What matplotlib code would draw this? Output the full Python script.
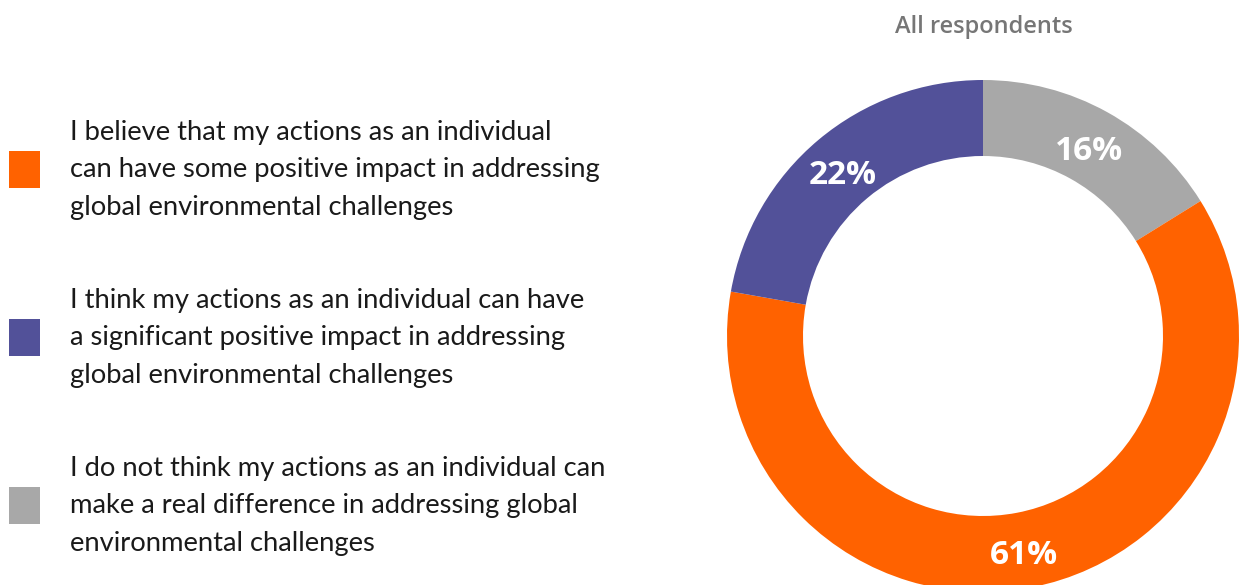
import matplotlib
matplotlib.use("Agg")
import matplotlib.pyplot as plt
from matplotlib.patches import Rectangle

# ---- data ----
title = "All respondents"
categories = [
    "I believe that my actions as an individual\ncan have some positive impact in addressing\nglobal environmental challenges",
    "I think my actions as an individual can have\na significant positive impact in addressing\nglobal environmental challenges",
    "I do not think my actions as an individual can\nmake a real difference in addressing global\nenvironmental challenges",
]
values = [61, 22, 16]
colors = ["#FF6200", "#525199", "#A8A8A8"]

# pie drawn clockwise from top: grey, orange, purple
pie_order = [2, 0, 1]

W, H = 1243, 585
fig = plt.figure(figsize=(W / 100, H / 100), dpi=100)
ax = fig.add_axes([0, 0, 1, 1])
ax.set_xlim(0, W)
ax.set_ylim(0, H)
ax.set_aspect("equal")
ax.axis("off")

font = "Lato"
font2 = "Open Sans"

pv = [values[i] for i in pie_order]
pc = [colors[i] for i in pie_order]
total = sum(pv)
wedges, _, autotexts = ax.pie(
    pv, colors=pc, startangle=90, counterclock=False,
    center=(983, H - 336), radius=256,
    wedgeprops=dict(width=76, linewidth=0),
    autopct=lambda p: f"{p * total / 100:.0f}%", pctdistance=0.85,
    textprops=dict(color="white", fontsize=24, fontweight="bold", family=font2),
)
for t in autotexts:
    x, y = t.get_position()
    t.set_position((x, y - 6))
ax.set_xlim(0, W)
ax.set_ylim(0, H)

ax.text(984, H - 27, title, ha="center", va="center", fontsize=17,
        fontweight="semibold", color="#767676", family=font2)

# legend
sq_centers = [170, 338, 506]
for i, lab in enumerate(categories):
    cy = sq_centers[i]
    ax.add_patch(Rectangle((9, H - cy - 18), 31, 37, color=colors[i], linewidth=0))
    lines = lab.split("\n")
    for j, ln in enumerate(lines):
        y = cy + (j - 1) * 37.5
        ax.text(70, H - y, ln, ha="left", va="center", fontsize=19.7,
                color="#1a1a1a", family=font)

fig.savefig("out.png", dpi=100)
